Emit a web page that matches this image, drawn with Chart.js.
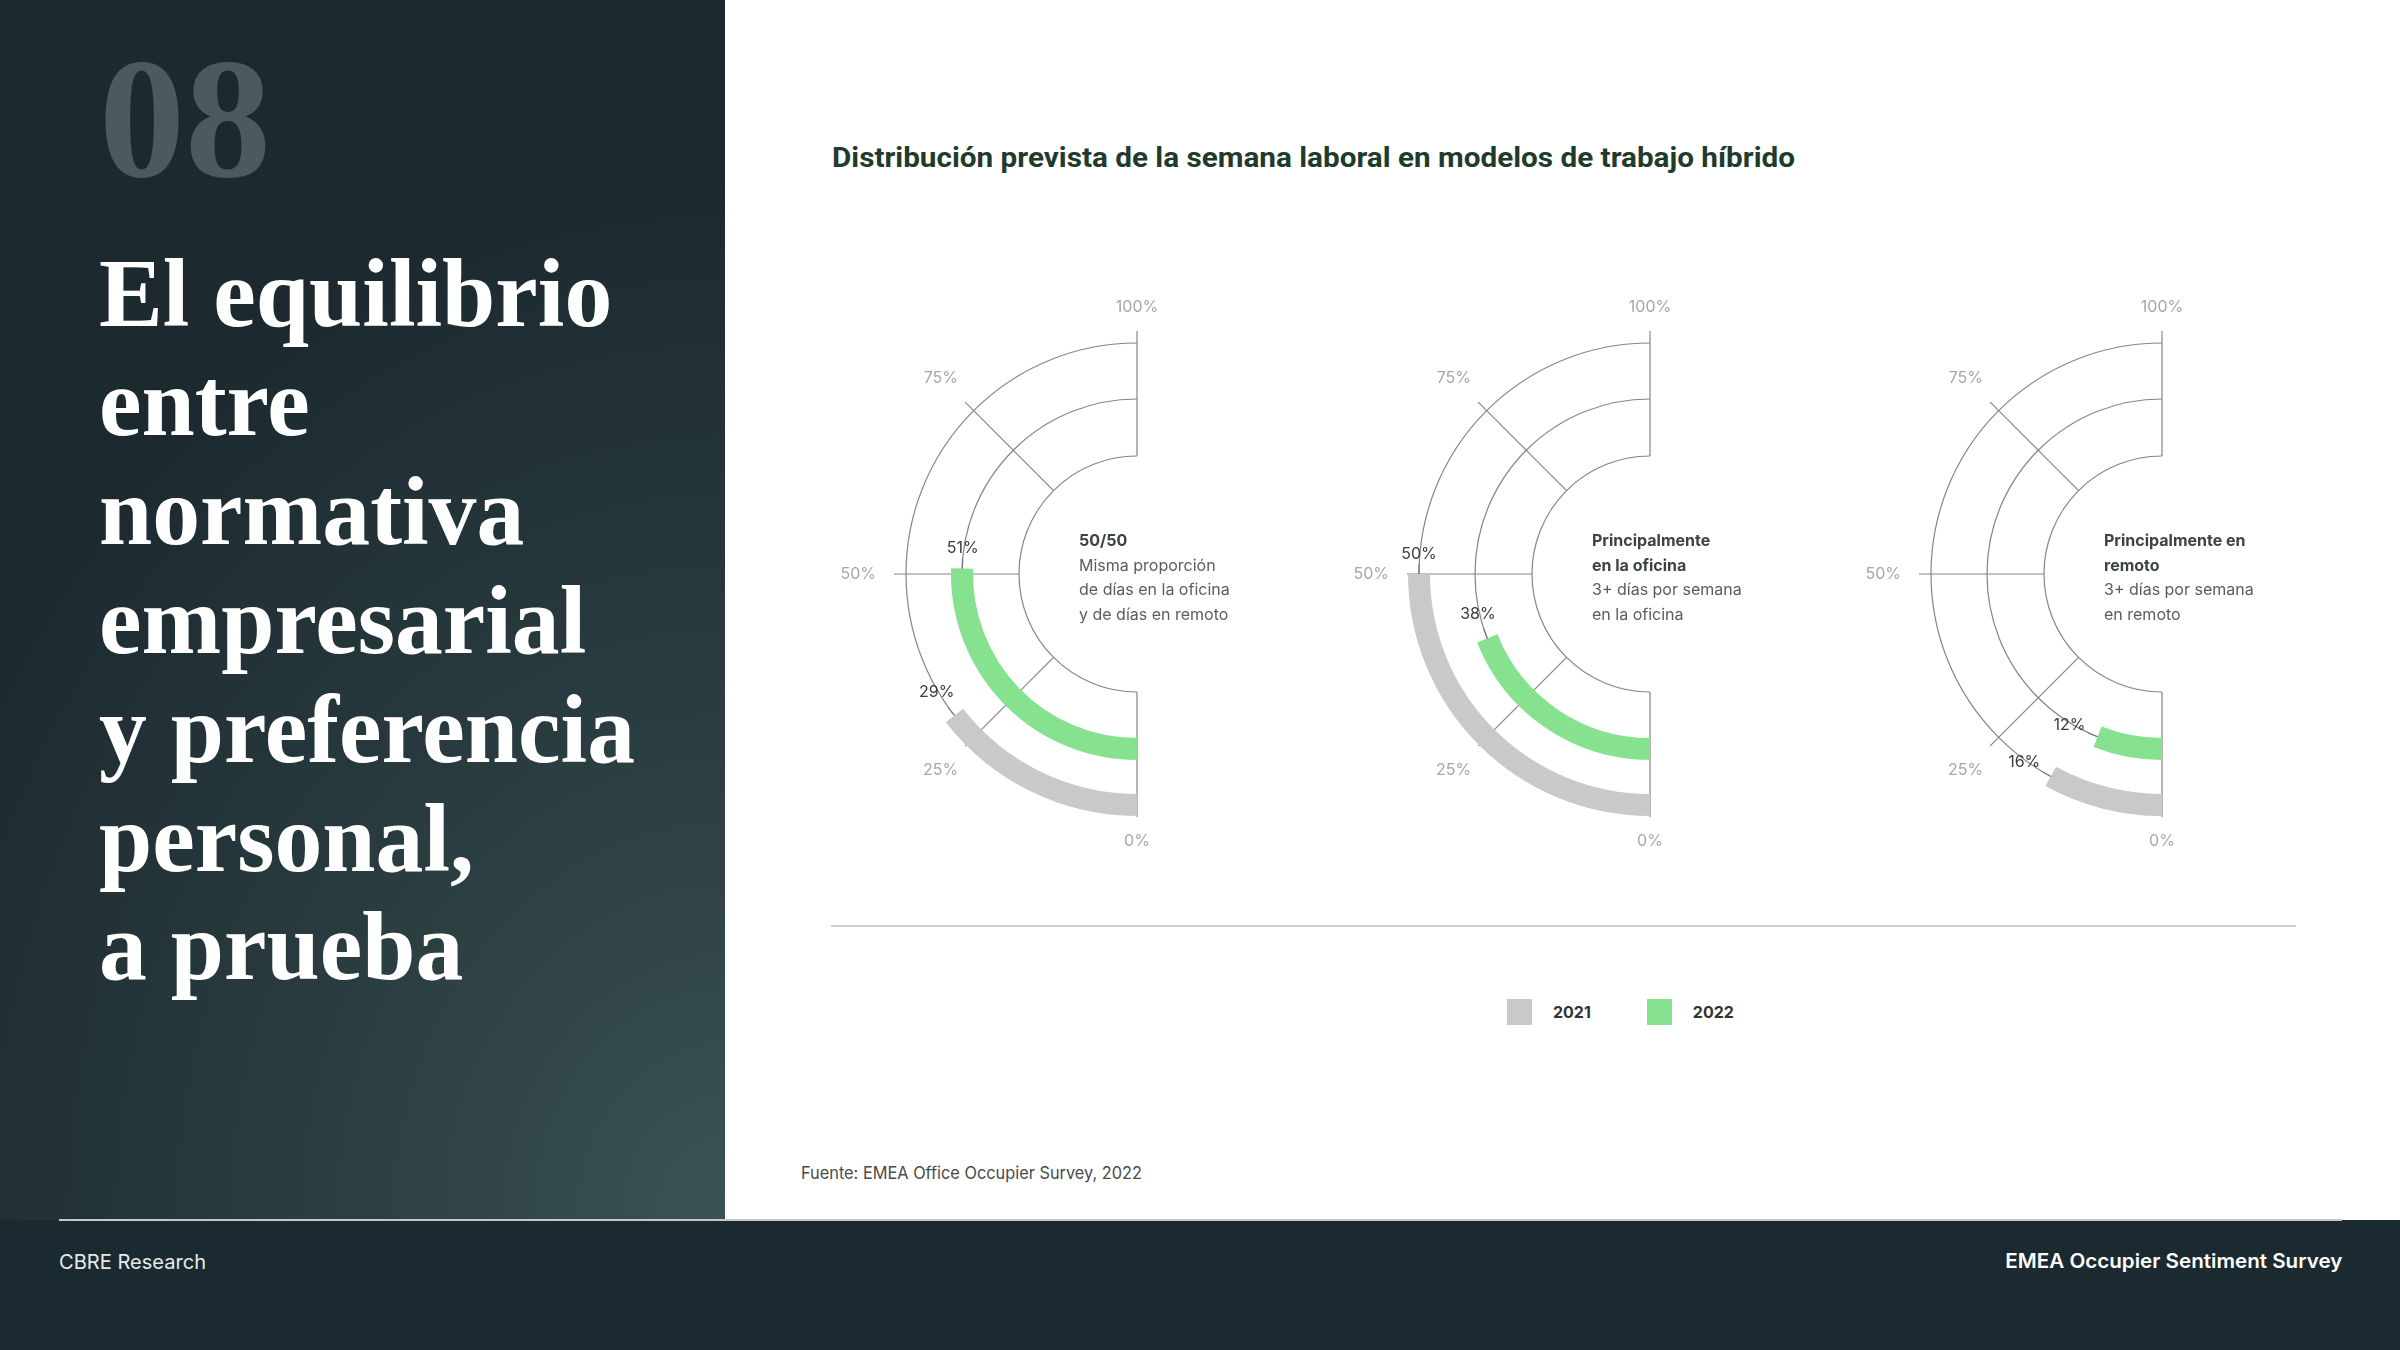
<!DOCTYPE html>
<html lang="es">
<head>
<meta charset="utf-8">
<script src="https://cdn.jsdelivr.net/npm/chart.js@4.4.1/dist/chart.umd.min.js"></script>
<style>
html,body{margin:0;padding:0;}
body{width:2400px;height:1350px;position:relative;overflow:hidden;background:#ffffff;font-family:Inter,"Noto Sans",sans-serif;}
#panel{position:absolute;left:0;top:0;width:725px;height:1220px;
  background:radial-gradient(ellipse 120% 85% at 100% 100%, #3b5254 0%, #2b3e42 45%, #1c2a30 100%);}
#footer{position:absolute;left:0;top:1220px;width:2400px;height:130px;background:#1b2a30;}
#footline{position:absolute;left:59px;top:1219px;width:2283px;height:2px;background:#c3c8c8;}
.abs{position:absolute;white-space:nowrap;}
.fit{display:inline-block;transform-origin:0 50%;}
#num{left:99px;top:32px;font:bold 172px/172px "Liberation Serif",serif;color:#4a5a5e;}
#headline{left:99px;top:240px;font:bold 97px/108.9px "Liberation Serif",serif;color:#ffffff;transform-origin:0 0;}
#headline span{display:inline-block;}
#title{left:832px;top:145px;font:bold 27px/27px Roboto,Inter,sans-serif;color:#1f3b2c;}
#rule{position:absolute;left:831px;top:925px;width:1465px;height:2px;background:#cfcfcf;}
#legend{position:absolute;left:1507px;top:999px;display:flex;gap:56px;}
#legend .li{display:flex;align-items:center;height:26px;}
#legend .sw{width:25px;height:26px;margin-right:21px;}
#legend .lt{font:bold 16px/16px Inter,sans-serif;color:#333;}
#source{left:801px;top:1165px;font:17px/17px Inter,sans-serif;color:#4a4a4a;}
#fleft{left:59px;top:1252px;font:20px/20px Inter,sans-serif;color:#e6eaea;}
#fright{right:58px;top:1251px;font:600 20px/20px Inter,sans-serif;color:#ffffff;}
#fright .fit{transform-origin:100% 50%;}
canvas.g{position:absolute;top:254px;}
</style>
</head>
<body>
<div id="panel"></div>
<div id="footer"></div>
<div id="footline"></div>
<div id="num" class="abs">08</div>
<div id="headline" class="abs"><span>El equilibrio</span><br><span>entre</span><br><span>normativa</span><br><span>empresarial</span><br><span>y preferencia</span><br><span>personal,</span><br><span>a prueba</span></div>
<div id="title" class="abs"><span class="fit" data-fit="963">Distribución prevista de la semana laboral en modelos de trabajo híbrido</span></div>
<canvas id="c0" class="g" width="560" height="640" style="left:735.7px"></canvas>
<canvas id="c1" class="g" width="560" height="640" style="left:1249px"></canvas>
<canvas id="c2" class="g" width="560" height="640" style="left:1761.3px"></canvas>
<div id="rule"></div>
<div id="legend"></div>
<div id="source" class="abs"><span class="fit" data-fit="341">Fuente: EMEA Office Occupier Survey, 2022</span></div>
<div id="fleft" class="abs"><span class="fit" data-fit="147">CBRE Research</span></div>
<div id="fright" class="abs"><span class="fit" data-fit="337">EMEA Occupier Sentiment Survey</span></div>
<script>
// ---------- DATA ----------
const categories = ['50/50', 'Principalmente en la oficina', 'Principalmente en remoto'];
const seriesNames = ['2021', '2022'];
const values2021 = [29, 50, 16];
const values2022 = [51, 38, 12];
const tickValues = [0, 25, 50, 75, 100];
const tickLabels = ['0%', '25%', '50%', '75%', '100%'];
const headingLines = [['50/50'], ['Principalmente', 'en la oficina'], ['Principalmente en', 'remoto']];
const descriptionLines = [
  ['Misma proporción', 'de días en la oficina', 'y de días en remoto'],
  ['3+ días por semana', 'en la oficina'],
  ['3+ días por semana', 'en remoto']
];
const seriesColors = ['#c9cac7', '#86e28f'];

// ---------- TEXT FITTING ----------
document.querySelectorAll('.fit').forEach(el => {
  const target = parseFloat(el.dataset.fit);
  const w = el.getBoundingClientRect().width;
  if (w > 0) el.style.transform = 'scaleX(' + (target / w) + ')';
});
(function () {
  const hl = document.getElementById('headline');
  const spans = hl.querySelectorAll('span');
  const w = spans[4].getBoundingClientRect().width; // "y preferencia"
  if (w > 0) hl.style.transform = 'scaleX(' + (536 / w) + ')';
})();

// ---------- LEGEND ----------
const legendEl = document.getElementById('legend');
seriesNames.forEach((name, i) => {
  const item = document.createElement('div');
  item.className = 'li';
  item.innerHTML = '<span class="sw" style="background:' + seriesColors[i] + '"></span><span class="lt">' + name + '</span>';
  legendEl.appendChild(item);
});

// ---------- PLUGIN ----------
function gaugeGeom(chart) {
  const ds = chart.data.datasets;
  const outerEl = chart.getDatasetMeta(0).data[0];
  const innerEl = chart.getDatasetMeta(ds.length - 1).data[0];
  const bars = [];
  ds.forEach((d, i) => { if (d.role === 'bar') bars.push({ meta: chart.getDatasetMeta(i), ds: d }); });
  const gridR = [innerEl.innerRadius].concat(bars.map(b => (b.meta.data[0].innerRadius + b.meta.data[0].outerRadius) / 2));
  return {
    cx: outerEl.x, cy: outerEl.y,
    start: outerEl.startAngle,
    circ: Math.PI * chart.options.circumference / 180,
    innerR: innerEl.innerRadius,
    outerR: outerEl.outerRadius,
    gridR: gridR, bars: bars
  };
}

const gaugeDecor = {
  id: 'gaugeDecor',
  beforeDatasetsDraw(chart) {
    const g = gaugeGeom(chart);
    const ctx = chart.ctx;
    ctx.save();
    ctx.strokeStyle = '#858585';
    ctx.lineWidth = 1.2;
    g.gridR.forEach(r => {
      ctx.beginPath();
      ctx.arc(g.cx, g.cy, r, g.start, g.start + g.circ);
      ctx.stroke();
    });
    tickValues.forEach(v => {
      const a = g.start + v / 100 * g.circ;
      const c = Math.cos(a), s = Math.sin(a);
      ctx.beginPath();
      ctx.moveTo(g.cx + g.innerR * c, g.cy + g.innerR * s);
      ctx.lineTo(g.cx + (g.outerR + 1) * c, g.cy + (g.outerR + 1) * s);
      ctx.stroke();
    });
    ctx.restore();
  },
  afterDatasetsDraw(chart) {
    const g = gaugeGeom(chart);
    const ctx = chart.ctx;
    const idx = chart.options.plugins.gaugeDecor.index;
    ctx.save();
    ctx.textAlign = 'center';
    ctx.textBaseline = 'middle';
    // tick labels
    ctx.font = '16px Inter, sans-serif';
    ctx.fillStyle = '#a6a6a6';
    tickValues.forEach((v, i) => {
      const a = g.start + v / 100 * g.circ;
      const c = Math.cos(a), s = Math.sin(a);
      const w = ctx.measureText(tickLabels[i]).width;
      const ext = Math.abs(c) * w / 2 + Math.abs(s) * 6;
      const r = g.outerR + 19 + ext;
      ctx.fillText(tickLabels[i], g.cx + r * c, g.cy + r * s);
    });
    // value labels
    ctx.font = '16px Inter, sans-serif';
    g.bars.forEach(b => {
      const el = b.meta.data[0];
      const a = el.endAngle;
      const r = (el.innerRadius + el.outerRadius) / 2;
      const px = g.cx + r * Math.cos(a), py = g.cy + r * Math.sin(a);
      const tx = -Math.sin(a), ty = Math.cos(a);
      ctx.strokeStyle = '#6f6f6f';
      ctx.lineWidth = 1;
      ctx.beginPath();
      ctx.moveTo(px, py);
      ctx.lineTo(px + tx * 10, py + ty * 10);
      ctx.stroke();
      const txt = b.ds.data[0] + '%';
      const w = ctx.measureText(txt).width;
      const ext = Math.abs(tx) * w / 2 + Math.abs(ty) * 6.5;
      const d = 13 + ext;
      ctx.fillStyle = '#3b3b3b';
      ctx.fillText(txt, px + tx * d, py + ty * d);
    });
    // centre text
    ctx.textAlign = 'left';
    let y = g.cy - 33;
    const x = g.cx - 58;
    ctx.font = 'bold 16px Inter, sans-serif';
    ctx.fillStyle = '#3c4245';
    headingLines[idx].forEach(t => { ctx.fillText(t, x, y); y += 24.8; });
    ctx.font = '16px Inter, sans-serif';
    ctx.fillStyle = '#585d60';
    descriptionLines[idx].forEach(t => { ctx.fillText(t, x, y); y += 24.8; });
    ctx.restore();
  }
};

// ---------- CHARTS ----------
const T = 'rgba(0,0,0,0)';
categories.forEach((cat, i) => {
  new Chart(document.getElementById('c' + i), {
    type: 'doughnut',
    data: {
      labels: ['valor', 'resto'],
      datasets: [
        { label: seriesNames[0], role: 'bar', data: [values2021[i], 100 - values2021[i]], backgroundColor: [seriesColors[0], T], borderWidth: 0, weight: 22 },
        { label: 'sep1', data: [100], backgroundColor: [T], borderWidth: 0, weight: 34 },
        { label: seriesNames[1], role: 'bar', data: [values2022[i], 100 - values2022[i]], backgroundColor: [seriesColors[1], T], borderWidth: 0, weight: 22 },
        { label: 'sep2', data: [100], backgroundColor: [T], borderWidth: 0, weight: 46 }
      ]
    },
    options: {
      responsive: false,
      animation: false,
      events: [],
      rotation: 180,
      circumference: 180,
      radius: 242,
      cutout: (118 / 242 * 100) + '%',
      layout: { padding: 0 },
      plugins: {
        legend: { display: false },
        tooltip: { enabled: false },
        gaugeDecor: { index: i }
      }
    },
    plugins: [gaugeDecor]
  });
});
</script>
</body>
</html>
